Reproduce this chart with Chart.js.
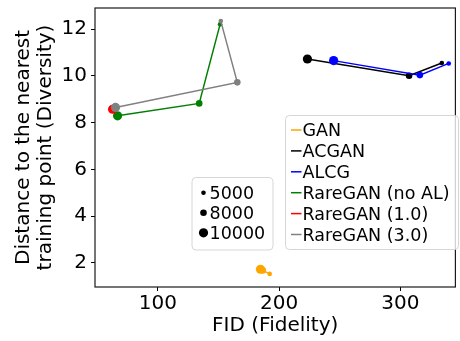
<!DOCTYPE html>
<html>
<head>
<meta charset="utf-8">
<script src="https://cdn.jsdelivr.net/npm/chart.js@4/dist/chart.umd.min.js"></script>
<style>
  html, body { margin: 0; padding: 0; background: #fff; }
  #wrap { width: 460px; height: 341px; }
</style>
</head>
<body>
<div id="wrap"><canvas id="c" width="460" height="341"></canvas></div>
<script>
// Number of generated samples behind each point (5000, 8000, 10000)
const sampleSizes = [5000, 8000, 10000];

// FID (x) and distance to nearest training point (y), one entry per sample size
const ganFid = [192.2, 186.5, 184.6];
const ganDiv = [1.53, 1.68, 1.73];
const acganFid = [334.1, 307.1, 223.3];
const acganDiv = [10.55, 10.00, 10.72];
const alcgFid = [339.8, 316.0, 244.9];
const alcgDiv = [10.53, 10.03, 10.65];
const noAlFid = [151.3, 134.1, 66.8];
const noAlDiv = [12.20, 8.82, 8.29];
const rare10Fid = [64.8, 63.8, 62.7];
const rare10Div = [8.55, 8.60, 8.57];
const rare30Fid = [151.9, 165.5, 65.1];
const rare30Div = [12.34, 9.72, 8.65];

const seriesNames = ['GAN', 'ACGAN', 'ALCG', 'RareGAN (no AL)', 'RareGAN (1.0)', 'RareGAN (3.0)'];
const seriesColors = ['#FFA500', '#000000', '#0000FF', '#008000', '#FF0000', '#808080'];
const seriesFid = [ganFid, acganFid, alcgFid, noAlFid, rare10Fid, rare30Fid];
const seriesDiv = [ganDiv, acganDiv, alcgDiv, noAlDiv, rare10Div, rare30Div];

const xTicks = [100, 200, 300];
const yTicks = [2, 4, 6, 8, 10, 12];

const FONT = 'DejaVu Sans';
const radiusFor = n => ({5000: 2.3, 8000: 3.3, 10000: 4.6})[n];

const datasets = seriesNames.map((name, i) => ({
  label: name,
  data: seriesFid[i].map((x, k) => ({x: x, y: seriesDiv[i][k]})),
  showLine: true,
  borderColor: seriesColors[i],
  backgroundColor: seriesColors[i],
  borderWidth: 1.5,
  pointRadius: sampleSizes.map(radiusFor),
  pointBorderWidth: 0,
  pointHoverRadius: sampleSizes.map(radiusFor),
  order: seriesNames.length - i
}));

function roundRect(ctx, x, y, w, h, r) {
  ctx.beginPath();
  ctx.moveTo(x + r, y);
  ctx.lineTo(x + w - r, y);
  ctx.arcTo(x + w, y, x + w, y + r, r);
  ctx.lineTo(x + w, y + h - r);
  ctx.arcTo(x + w, y + h, x + w - r, y + h, r);
  ctx.lineTo(x + r, y + h);
  ctx.arcTo(x, y + h, x, y + h - r, r);
  ctx.lineTo(x, y + r);
  ctx.arcTo(x, y, x + r, y, r);
  ctx.closePath();
}

// Axes frame plus the two in-plot legends (marker size and series)
const framePlugin = {
  id: 'frameAndLegends',
  afterDraw(chart) {
    const ctx = chart.ctx;
    const a = chart.chartArea;
    ctx.save();
    ctx.strokeStyle = '#1a1a1a';
    ctx.lineWidth = 1.2;
    ctx.strokeRect(a.left, a.top, a.right - a.left, a.bottom - a.top);

    const fs = 17.5;
    ctx.font = fs + 'px "' + FONT + '"';
    ctx.textBaseline = 'alphabetic';
    ctx.textAlign = 'left';

    // sample-size legend
    roundRect(ctx, 192, 177.5, 81, 72.5, 4);
    ctx.fillStyle = 'rgba(255,255,255,0.8)';
    ctx.fill();
    ctx.strokeStyle = '#d6d6d6';
    ctx.lineWidth = 1;
    ctx.stroke();
    sampleSizes.forEach((n, k) => {
      const cy = 192.8 + k * 20;
      ctx.fillStyle = '#000';
      ctx.beginPath();
      ctx.arc(203.5, cy, radiusFor(n), 0, Math.PI * 2);
      ctx.fill();
      ctx.fillText(String(n), 209.5, cy + 0.365 * fs);
    });

    // series legend
    roundRect(ctx, 285.5, 115.5, 173, 134, 4);
    ctx.fillStyle = 'rgba(255,255,255,0.8)';
    ctx.fill();
    ctx.strokeStyle = '#d6d6d6';
    ctx.lineWidth = 1;
    ctx.stroke();
    seriesNames.forEach((name, i) => {
      const cy = 130 + i * 20.9;
      ctx.strokeStyle = seriesColors[i];
      ctx.lineWidth = 1.5;
      ctx.beginPath();
      ctx.moveTo(291, cy);
      ctx.lineTo(301.5, cy);
      ctx.stroke();
      ctx.fillStyle = '#000';
      ctx.fillText(name, 302.5, cy + 0.365 * fs);
    });
    ctx.restore();
  }
};

new Chart(document.getElementById('c'), {
  type: 'scatter',
  data: { datasets: datasets },
  options: {
    responsive: false,
    animation: false,
    events: [],
    layout: { padding: { left: 0, right: 2, top: 8, bottom: 0 } },
    plugins: { legend: { display: false }, tooltip: { enabled: false } },
    scales: {
      x: {
        type: 'linear',
        min: 48.2,
        max: 345.3,
        afterFit: s => { s.height = 54; s.paddingLeft = 0; s.paddingRight = 0; },
        afterBuildTicks: s => { s.ticks = xTicks.map(v => ({value: v})); },
        ticks: { color: '#000', font: { family: FONT, size: 20 }, padding: 1, maxRotation: 0 },
        grid: { display: true, drawOnChartArea: false, drawTicks: true, tickLength: 4, tickColor: '#000', tickWidth: 1 },
        border: { display: false },
        title: { display: true, text: 'FID (Fidelity)', color: '#000', font: { family: FONT, size: 20, lineHeight: 1.15 }, padding: { top: 0, bottom: 3.5 } }
      },
      y: {
        type: 'linear',
        min: 0.97,
        max: 12.9,
        afterFit: s => { s.width = 95; s.paddingTop = 0; s.paddingBottom = 0; },
        afterBuildTicks: s => { s.ticks = yTicks.map(v => ({value: v})); },
        ticks: { color: '#000', font: { family: FONT, size: 20 }, padding: 4 },
        grid: { display: true, drawOnChartArea: false, drawTicks: true, tickLength: 4, tickColor: '#000', tickWidth: 1 },
        border: { display: false },
        title: { display: true, text: ['Distance to the nearest', 'training point (Diversity)'], color: '#000', font: { family: FONT, size: 20, lineHeight: 1.1 }, padding: { top: 13, bottom: 0 } }
      }
    }
  },
  plugins: [framePlugin]
});
</script>
</body>
</html>
